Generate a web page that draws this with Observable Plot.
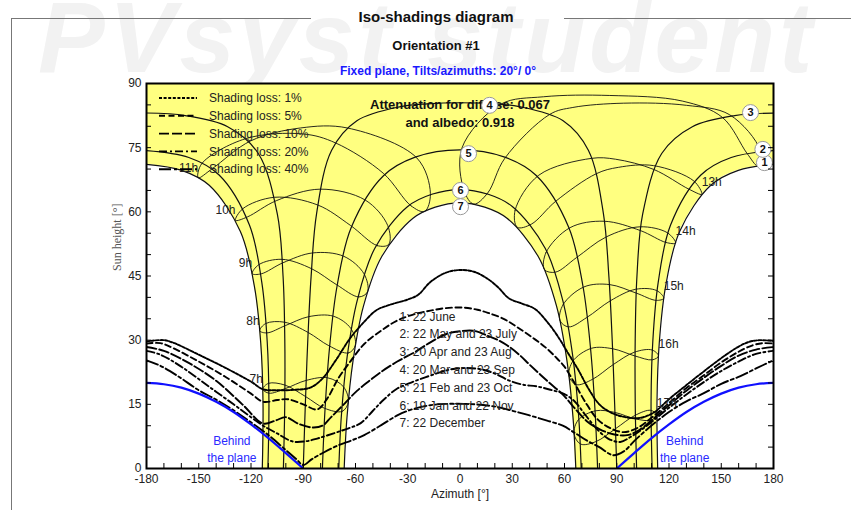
<!DOCTYPE html>
<html>
<head>
<meta charset="utf-8">
<script src="https://cdn.jsdelivr.net/npm/d3@7"></script>
<script src="https://cdn.jsdelivr.net/npm/@observablehq/plot@0.6"></script>
<style>
  body { margin: 0; background: #fff; font-family: "Liberation Sans", Arial, sans-serif; }
  #page { position: relative; width: 851px; height: 510px; overflow: hidden; background: #fff; }
  #head { position: relative; height: 78px; }
  .wm { position: absolute; left: 38px; top: -20px; font: italic bold 100px "Liberation Sans", Arial, sans-serif; color: #f2f2f2; white-space: nowrap; letter-spacing: 4px; }
  .rule { position: absolute; border-top: 1px solid #777; height: 0; }
  .vrule { position: absolute; border-left: 1px solid #777; width: 0; }
  .t { position: absolute; text-align: center; font-weight: bold; white-space: nowrap; }
  #chart { position: relative; }
</style>
</head>
<body>
<div id="page">
  <div id="head">
    <div class="wm">PVsyst student</div>
    <div class="rule" style="left:11px; top:18px; width:300px;"></div>
    <div class="rule" style="left:564px; top:18px; width:287px;"></div>
    <div class="vrule" style="left:11px; top:18px; height:492px;"></div>
    <div class="t" style="left:286px; width:300px; top:8px; font-size:15px; color:#111;">Iso-shadings diagram</div>
    <div class="t" style="left:286px; width:300px; top:38px; font-size:13px; color:#111;">Orientation #1</div>
    <div class="t" style="left:238px; width:400px; top:64px; font-size:12px; color:#1a1aff;">Fixed plane, Tilts/azimuths: 20°/ 0°</div>
  </div>
  <div id="chart"></div>
</div>
<script>
// ---- Sun paths for the seven reference dates: [azimuth °, sun height °]
const path1am = [[-113.5,0],[-113.1,15.5],[-114.4,29.3],[-118.1,42.7],[-126.1,55.4],[-144,66.2],[-159.8,69.7],[-180,71.1]];
const path1pm = [[180,71.1],[159.8,69.7],[144,66.2],[126.1,55.4],[118.1,42.7],[114.4,29.3],[113.1,15.5],[113.5,0]];
const path2am = [[-110.3,0],[-109.7,15.6],[-110.7,29.7],[-113.8,43.5],[-120.9,56.9],[-138.3,68.6],[-155.7,72.7],[-180,74.3]];
const path2pm = [[180,74.3],[155.7,72.7],[138.3,68.6],[120.9,56.9],[113.8,43.5],[110.7,29.7],[109.7,15.6],[110.3,0]];
const path3am = [[-101.4,0],[-100.6,15.6],[-100.6,30.3],[-101.6,45.0],[-104.9,59.5],[-115.9,73.7],[-133.4,79.9],[-157.7,82.5],[-180,83.1]];
const path3pm = [[180,83.1],[157.7,82.5],[133.4,79.9],[115.9,73.7],[104.9,59.5],[101.6,45.0],[100.6,30.3],[100.6,15.6],[101.4,0]];
const path4 = [[-90,0],[-88.8,15],[-87.4,29.9],[-85.5,44.8],[-82.3,59.7],[-73.7,74.4],[-59.2,81.3],[-34,84.6],[-18.9,85.25],[0,85.5],[18.9,85.25],[34,84.6],[59.2,81.3],[73.7,74.4],[82.3,59.7],[85.5,44.8],[87.4,29.9],[88.8,15],[90,0]];
const path5 = [[-79,0],[-77.5,13.8],[-74.9,28.3],[-70.6,42.6],[-62.4,56.4],[-43.8,68.5],[-25.7,72.8],[0,74.5],[25.7,72.8],[43.8,68.5],[62.4,56.4],[70.6,42.6],[74.9,28.3],[77.5,13.8],[79,0]];
const path6 = [[-69.6,0],[-68.1,12.4],[-64.8,26.1],[-59,39.3],[-48.9,51.5],[-30.2,61.2],[-16.2,64.1],[0,65.2],[16.2,64.1],[30.2,61.2],[48.9,51.5],[59,39.3],[64.8,26.1],[68.1,12.4],[69.6,0]];
const path7 = [[-66.5,0],[-64.9,11.9],[-61.4,25.2],[-55.4,38.0],[-45,49.5],[-27,58.5],[-14.2,61.1],[0,62.1],[14.2,61.1],[27,58.5],[45,49.5],[55.4,38.0],[61.4,25.2],[64.9,11.9],[66.5,0]];

// numbered markers on the paths
const pathLabels = [
  {n: "1", az: 174.8, h: 71.5}, {n: "2", az: 173.9, h: 74.6}, {n: "3", az: 166.8, h: 83.2},
  {n: "4", az: 17, h: 84.9}, {n: "5", az: 4.9, h: 73.6}, {n: "6", az: 0.3, h: 65.0}, {n: "7", az: 0.3, h: 61.2}
];
const dateNames = ["1: 22 June", "2: 22 May and 23 July", "3: 20 Apr and 23 Aug", "4: 20 Mar and 23 Sep",
  "5: 21 Feb and 23 Oct", "6: 19 Jan and 22 Nov", "7: 22 December"];

// ---- Hour lines (legal time 7h..17h): sun position on each date of the year
const hours = [7, 8, 9, 10, 11, 12, 13, 14, 15, 16, 17];
const dec22 = [[-64.1,15.6],[-60.1,28.8],[-53.1,41.3],[-40.9,52.4],[-20.3,60.1],[7.9,61.8],[32.9,56.4],[48.5,46.5],[57.4,34.6],[62.6,21.6],[65.5,8.1]];
const jan19 = [[-67.6,13.35],[-64.1,27.0],[-58.1,40.1],[-47.5,52.1],[-28.1,61.4],[2.4,64.9],[31.6,60.3],[49.4,50.5],[59.2,38.3],[64.8,25.1],[67.9,11.35]];
const feb21 = [[-77.9,14.1],[-75.3,28.7],[-71.0,43.0],[-62.8,56.8],[-44.0,69.0],[1.1,74.9],[45.2,68.55],[63.2,56.3],[71.2,42.45],[75.5,28.1],[78.0,13.5]];
const mar20 = [[-88.6,16.8],[-87.2,31.8],[-85.2,46.7],[-81.7,61.6],[-71.4,76.1],[23.1,85.1],[75.5,72.5],[82.8,57.8],[85.8,43.0],[87.6,28.0],[89.0,13.1]];
const apr20 = [[-100.5,19.5],[-100.7,34.2],[-102.2,48.9],[-106.6,63.4],[-123.1,77.1],[150.6,82.1],[111.3,69.9],[103.7,55.6],[101.2,41.0],[100.5,26.3],[100.7,11.6]];
const may22 = [[-110.0,19.9],[-111.5,33.9],[-115.5,47.65],[-124.8,60.7],[-148.3,71.25],[164.9,73.6],[131.4,65.3],[118.2,52.85],[112.7,39.3],[110.4,25.4],[109.8,11.3]];
const jun22 = [[-113.2,18.55],[-115.0,32.2],[-119.3,45.55],[-128.9,58.0],[-150.3,67.95],[170.8,70.8],[138.8,64.1],[123.8,52.7],[117.0,39.8],[114.0,26.3],[113.0,12.5]];
const jul23 = [[-109.6,17.6],[-110.8,31.7],[-114.2,45.5],[-122.1,58.8],[-142.2,70.1],[172.3,74.4],[134.3,67.2],[119.1,55.1],[112.9,41.6],[110.3,27.7],[109.5,13.6]];
const aug23 = [[-100.2,18.7],[-100.3,33.4],[-101.6,48.1],[-105.5,62.6],[-120.1,76.6],[154.8,82.7],[111.2,70.8],[103.4,56.5],[100.9,41.9],[100.2,27.2],[100.4,12.4]];
const sep23 = [[-88.3,20.6],[-86.8,35.5],[-84.5,50.4],[-80.2,65.3],[-64.6,79.6],[51.6,82.8],[78.2,68.9],[83.8,54.1],[86.3,39.2],[88.0,24.3],[89.3,9.3]];
const oct23 = [[-76.0,21.2],[-72.7,35.6],[-66.7,49.6],[-54.4,62.75],[-24.8,72.6],[25.7,72.5],[54.9,62.45],[66.9,49.3],[72.8,35.3],[76.1,20.85],[78.1,6.3]];
const nov22 = [[-66.9,19.1],[-62.6,32.7],[-55.1,45.5],[-41.5,56.8],[-17.0,64.25],[15.9,64.4],[40.9,57.1],[54.8,45.9],[62.4,33.1],[66.8,19.6],[69.3,5.7]];
// extra positions where the hour lines pass close to the zenith: [hour, azimuth, height]
const zenithSpring = [[11,-90,78.2],[12,48,86.9],[12,86,87.2],[12,127.6,85.9],[13,89.3,72.3]];
const zenithAutumn = [[11,-91.7,79.6],[12,130,84.9],[12,94,85.4],[12,64.8,84.4],[13,90.9,70.4]];

// ---- Iso-shading curves: [azimuth, height]
const lossNames = ["Shading loss: 1%", "Shading loss: 5%", "Shading loss: 10%", "Shading loss: 20%", "Shading loss: 40%"];
const loss1 = [[-180,29.7],[-170,30.0],[-164,29.3],[-150,26.6],[-135,23.6],[-120,20.3],[-113,18.5],[-105,18.3],[-95,18.4],[-86,18.9],[-79,21.0],[-71,25.5],[-63,30.5],[-55,34.3],[-48,37.0],[-40,38.3],[-30,39.5],[-24,40.6],[-17,43.6],[-8,45.8],[0,46.4],[8,46.0],[16,44.3],[22,42.3],[28,39.8],[36,38.5],[43,37.3],[50,34.3],[56,31],[62,27],[68,23],[74,18.5],[80,15],[87,13],[95,12],[103,11.8],[111,13],[120,16.2],[130,19.5],[140,22.7],[150,25.8],[160,28.5],[166,29.6],[172,30.0],[180,29.8]];
const loss5 = [[-180,29.2],[-172,29.3],[-165,28.2],[-150,25],[-135,21.5],[-120,17.5],[-113,15.6],[-105,16],[-99,16.2],[-90,15],[-82,13.8],[-76,16.5],[-70,21],[-63,25],[-55,29.1],[-45,32.3],[-36,34.6],[-25,36.2],[-17,36.9],[-8,37.5],[2,37.6],[10,37.1],[16,36.4],[25,35],[33,33],[42,30.5],[50,28],[56,25.6],[60,23.8],[65,20.5],[72,15.5],[79,11.5],[86,9.5],[94,8.5],[102,9.5],[111,12.2],[120,15.3],[130,18.8],[140,21.8],[150,24.8],[160,27.3],[168,28.8],[174,29.3],[180,29.2]];
const loss10 = [[-180,28.4],[-170,27.5],[-155,24.5],[-140,20.5],[-125,15],[-113,10.5],[-106,11.2],[-100,12],[-93,10.5],[-85,9.6],[-79,10],[-74,12],[-66,15.3],[-59,18.2],[-52,20.5],[-45.6,22.5],[-36,25],[-26,27.2],[-17,29.5],[-7.5,31.5],[0,32.1],[8,32.2],[15.5,31.1],[21,30.2],[27,28.8],[34,26.6],[40.4,24.1],[50,20.5],[59.5,17.1],[66,14],[73,11],[80,9.2],[88,8],[96,7.8],[103,9],[111,11.6],[120,14.8],[130,18.2],[140,21.2],[150,24],[160,26.4],[170,27.8],[180,28.4]];
const loss20 = [[-180,27.5],[-172,26.6],[-160,23.8],[-145,19.4],[-130,15],[-120,12],[-113,10],[-105,8.2],[-96,6.3],[-88,6.4],[-82,7],[-72,8.3],[-64,9.4],[-57,10.6],[-50,13.5],[-44,16],[-36,18.7],[-28,20.1],[-20,21.3],[-12,22.4],[-5,23.2],[3,23.5],[12,23.2],[20,22.2],[28,20.6],[36,19.6],[44,19.2],[52,18.4],[60,17.4],[66,15.6],[72,12.5],[78,9.5],[85,7],[92,6.2],[98,7.4],[104,9],[111,11.2],[120,14.2],[130,17.3],[140,20.2],[150,22.8],[160,25],[170,26.8],[180,27.5]];
const loss40 = [[-180,25.3],[-172,24],[-162,21.6],[-150,18.3],[-140,16.1],[-130,13.6],[-120,10.8],[-110,7.8],[-100,4.3],[-94,2.2],[-90,0.8],[-85,2.2],[-78,3.8],[-70,5.4],[-62,6.6],[-55,7.8],[-45,10.2],[-36,12.4],[-27,13.9],[-17,14.8],[-8,15.1],[2,15.1],[12,14.9],[21,14.4],[30,13.5],[40,12.4],[50,11.2],[59,10],[66,8.3],[73,6.5],[80,5],[88,3.1],[94,4],[101,6.8],[111,10.4],[120,13.2],[130,15.7],[140,17.6],[150,19.8],[161,21.6],[170,23.4],[180,25.3]];

// ---- Limit where the sun is behind the plane
const behindLeft = [[-180,20],[-170,19.7],[-160,18.9],[-150,17.5],[-140,15.6],[-130,13.2],[-120,10.3],[-110,7.1],[-100,3.6],[-90,0]];
const behindRight = [[90,0],[100,3.6],[110,7.1],[120,10.3],[130,13.2],[140,15.6],[150,17.5],[160,18.9],[170,19.7],[180,20]];
const behindText = [{az: -131, h: 4.7, t: "Behind\nthe plane"}, {az: 129, h: 4.7, t: "Behind\nthe plane"}];

const azTicks = [-180, -150, -120, -90, -60, -30, 0, 30, 60, 90, 120, 150, 180];
const heightTicks = [0, 15, 30, 45, 60, 75, 90];

// ---- build tables for the marks
const pts = (arr, extra) => arr.map(([az, h]) => ({az, h, ...extra}));
const pathSegs = [path1am, path1pm, path2am, path2pm, path3am, path3pm, path4, path5, path6, path7]
  .flatMap((p, i) => pts(p, {seg: i}));

const hourLines = [];
hours.forEach((hr, k) => {
  const add = (az, h) => hourLines.push({hour: hr, az, h});
  [dec22, jan19, feb21, mar20].forEach(d => add(d[k][0], d[k][1]));
  zenithSpring.filter(p => p[0] === hr).forEach(p => add(p[1], p[2]));
  [apr20, may22, jun22, jul23, aug23].forEach(d => add(d[k][0], d[k][1]));
  zenithAutumn.filter(p => p[0] === hr).forEach(p => add(p[1], p[2]));
  [sep23, oct23, nov22].forEach(d => add(d[k][0], d[k][1]));
});
const hourTags = hours.map((hr, k) => ({hr, t: hr + "h", az: jun22[k][0], h: jun22[k][1]}));

const lossSeries = [loss1, loss5, loss10, loss20, loss40];
const dashes = ["3,1.6", "6,3.5", "10,3", "8,3,2,3", "12,3,3,3"];

const W = 851, H = 432, ML = 146, MR = 78, MT = 5, MB = 42;
const innerW = W - ML - MR, innerH = H - MT - MB;
const yellow = "#ffff80";
const font = "Liberation Sans, Arial, sans-serif";

const marks = [
  Plot.frame({fill: yellow, stroke: "none"}),
  // white areas outside the band of sun paths
  Plot.areaX(pts(path1am), {y: "h", x1: -180, x2: "az", fill: "white", curve: "catmull-rom", clip: true}),
  Plot.areaX(pts(path1pm), {y: "h", x1: 180, x2: "az", fill: "white", curve: "catmull-rom", clip: true}),
  Plot.areaY(pts(path7), {x: "az", y: "h", fill: "white", curve: "catmull-rom", clip: true}),
  // hour lines
  Plot.line(hourLines, {x: "az", y: "h", z: "hour", curve: "catmull-rom-closed", stroke: "#111", strokeWidth: 0.9, clip: true}),
  // date paths
  Plot.line(pathSegs, {x: "az", y: "h", z: "seg", curve: "catmull-rom", stroke: "#111", strokeWidth: 1.2, clip: true}),
  // iso-shading curves
  ...lossSeries.map((s, i) => Plot.line(pts(s), {x: "az", y: "h", curve: "catmull-rom", stroke: "#000", strokeWidth: 1.9, strokeDasharray: dashes[i], clip: true})),
  // behind the plane
  Plot.line(pts(behindLeft), {x: "az", y: "h", curve: "catmull-rom", stroke: "#1010ff", strokeWidth: 2.2, clip: true}),
  Plot.line(pts(behindRight), {x: "az", y: "h", curve: "catmull-rom", stroke: "#1010ff", strokeWidth: 2.2, clip: true}),
  Plot.text(behindText, {x: "az", y: "h", text: "t", fill: "#2a2aff", fontSize: 12, lineHeight: 1.35}),
  // annotations
  Plot.text(["Attenuation for diffuse: 0.067\nand albedo: 0.918"], {frameAnchor: "top", dy: 13, lineAnchor: "top", lineHeight: 1.38, fontWeight: "bold", fontSize: 13, fill: "#111"}),
  Plot.text([dateNames.join("\n")], {frameAnchor: "top-left", dx: 253, dy: 224.5, lineAnchor: "top", textAnchor: "start", lineHeight: 1.483, fontSize: 12, fill: "#222"}),
  Plot.text(hourTags.filter(d => d.hr < 12), {x: "az", y: "h", text: "t", textAnchor: "end", dy: -10, fontSize: 12, fill: "#222"}),
  Plot.text(hourTags.filter(d => d.hr > 12), {x: "az", y: "h", text: "t", textAnchor: "start", dy: -12, fontSize: 12, fill: "#222"}),
  Plot.dot(pathLabels, {x: "az", y: "h", r: 8, fill: "white", stroke: "#999", strokeWidth: 1}),
  Plot.text(pathLabels, {x: "az", y: "h", text: "n", fontWeight: "bold", fontSize: 11, fill: "#111"}),
  // axes
  Plot.tickX(d3.range(-170, 180, 10), {insetTop: innerH - 5, stroke: "#000"}),
  Plot.tickY(d3.range(5, 90, 5), {insetRight: innerW - 5, stroke: "#000"}),
  Plot.tickY(d3.range(5, 90, 5), {insetLeft: innerW - 5, stroke: "#000"}),
  Plot.axisX(azTicks, {tickSize: 0, tickPadding: 6, tickFormat: d => String(d), fontSize: 12, label: null, fill: "#222"}),
  Plot.axisY(heightTicks, {tickSize: 0, tickPadding: 5, tickFormat: d => String(d), fontSize: 12, label: null, fill: "#222"}),
  Plot.text(["Azimuth [°]"], {frameAnchor: "bottom", dy: 29, fontSize: 12, fill: "#222"}),
  Plot.text(["Sun height [°]"], {frameAnchor: "left", dx: -29, dy: -5, rotate: -90, fontSize: 12, fontFamily: "Liberation Serif, Times New Roman, serif", fill: "#555"}),
  Plot.frame({stroke: "#000", strokeWidth: 2})
];

const svg = Plot.plot({
  width: W, height: H,
  marginLeft: ML, marginRight: MR, marginTop: MT, marginBottom: MB,
  x: {domain: [-180, 180]},
  y: {domain: [0, 90]},
  style: {fontFamily: font, fontSize: "12px", background: "transparent", overflow: "visible"},
  marks
});
document.getElementById("chart").appendChild(svg);

// legend of the iso-shading curves, in the upper-left corner of the frame
const lg = d3.select(svg).append("g").attr("font-family", font).attr("font-size", 12).attr("text-anchor", "start");
lossNames.forEach((name, i) => {
  const y = 20 + i * 17.8;
  lg.append("line").attr("x1", 159).attr("x2", 197).attr("y1", y).attr("y2", y)
    .attr("stroke", "#000").attr("stroke-width", 1.9).attr("stroke-dasharray", dashes[i]);
  lg.append("text").attr("x", 209).attr("y", y).attr("dy", "0.35em").attr("text-anchor", "start").attr("fill", "#222").text(name);
});
</script>
</body>
</html>
